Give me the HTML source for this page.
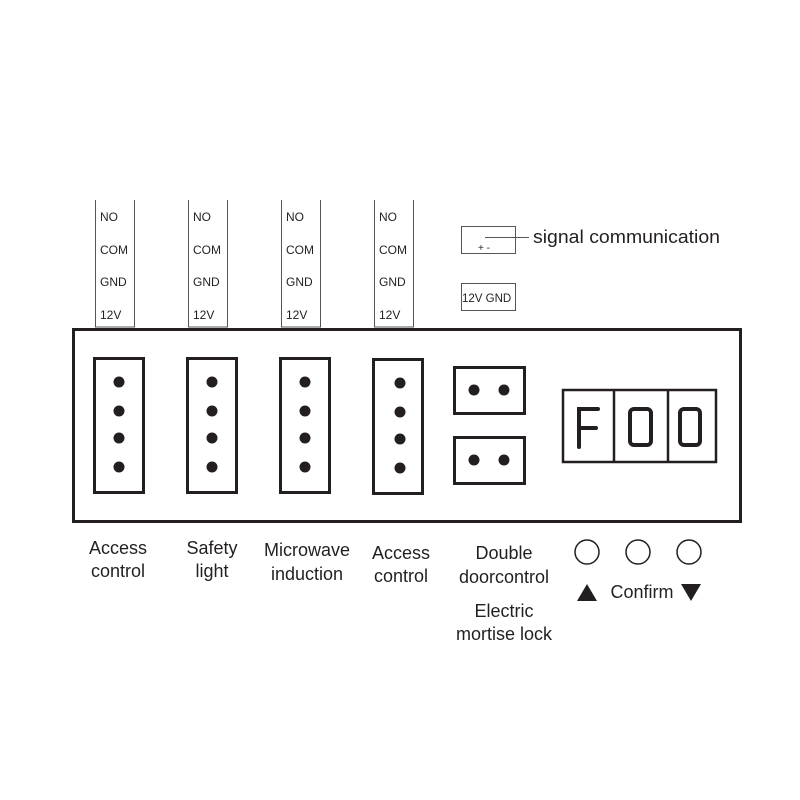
<!DOCTYPE html>
<html><head><style>
body{margin:0;background:#fff}
svg{display:block}
text{font-family:"Liberation Sans",sans-serif;fill:#231f20}
</style></head><body>
<svg width="800" height="800" viewBox="0 0 800 800" xmlns="http://www.w3.org/2000/svg">
<g fill="none" stroke="#555" stroke-width="1">
<path d="M95.5,200 V327 H134.5 V200"/>
<path d="M188.5,200 V327 H227.5 V200"/>
<path d="M281.5,200 V327 H320.5 V200"/>
<path d="M374.5,200 V327 H413.5 V200"/>
<rect x="461.5" y="226.5" width="54" height="27"/>
<rect x="461.5" y="283.5" width="54" height="27"/>
<line x1="485" y1="237.5" x2="529" y2="237.5"/>
</g>
<g font-size="12">
<text x="100" y="221">NO</text><text x="100" y="254">COM</text><text x="100" y="286">GND</text><text x="100" y="319">12V</text>
<text x="193" y="221">NO</text><text x="193" y="254">COM</text><text x="193" y="286">GND</text><text x="193" y="319">12V</text>
<text x="286" y="221">NO</text><text x="286" y="254">COM</text><text x="286" y="286">GND</text><text x="286" y="319">12V</text>
<text x="379" y="221">NO</text><text x="379" y="254">COM</text><text x="379" y="286">GND</text><text x="379" y="319">12V</text>
<text x="462" y="302" font-size="11.5">12V GND</text>
<text x="478" y="251" font-size="10">+  -</text>
</g>
<text x="533" y="243" font-size="18" textLength="187" lengthAdjust="spacingAndGlyphs">signal communication</text>
<g fill="none" stroke="#231f20">
<rect x="73.5" y="329.5" width="667" height="192" stroke-width="3"/>
<g stroke-width="3">
<rect x="94.5" y="358.5" width="49" height="134"/>
<rect x="187.5" y="358.5" width="49" height="134"/>
<rect x="280.5" y="358.5" width="49" height="134"/>
<rect x="373.5" y="359.5" width="49" height="134"/>
<rect x="454.5" y="367.5" width="70" height="46"/>
<rect x="454.5" y="437.5" width="70" height="46"/>
</g>
<g stroke-width="2.5">
<rect x="563" y="390" width="153" height="72"/>
<line x1="614" y1="390" x2="614" y2="462"/>
<line x1="668" y1="390" x2="668" y2="462"/>
</g>
<g stroke-width="4" stroke-linecap="round">
<path d="M579,447 V409 H598 M579,428 H596"/>
<rect x="630" y="409" width="21" height="36" rx="4"/>
<rect x="680" y="409" width="20" height="36" rx="4"/>
</g>
<g stroke-width="1.5">
<circle cx="587" cy="552" r="12"/>
<circle cx="638" cy="552" r="12"/>
<circle cx="689" cy="552" r="12"/>
</g>
</g>
<g fill="#231f20">
<circle cx="119" cy="382" r="5.5"/><circle cx="119" cy="411" r="5.5"/><circle cx="119" cy="438" r="5.5"/><circle cx="119" cy="467" r="5.5"/>
<circle cx="212" cy="382" r="5.5"/><circle cx="212" cy="411" r="5.5"/><circle cx="212" cy="438" r="5.5"/><circle cx="212" cy="467" r="5.5"/>
<circle cx="305" cy="382" r="5.5"/><circle cx="305" cy="411" r="5.5"/><circle cx="305" cy="438" r="5.5"/><circle cx="305" cy="467" r="5.5"/>
<circle cx="400" cy="383" r="5.5"/><circle cx="400" cy="412" r="5.5"/><circle cx="400" cy="439" r="5.5"/><circle cx="400" cy="468" r="5.5"/>
<circle cx="474" cy="390" r="5.5"/><circle cx="504" cy="390" r="5.5"/>
<circle cx="474" cy="460" r="5.5"/><circle cx="504" cy="460" r="5.5"/>
<path d="M577,601 L587,584 L597,601 Z"/>
<path d="M681,584 L701,584 L691,601 Z"/>
</g>
<g font-size="18" text-anchor="middle">
<text x="118" y="554">Access</text><text x="118" y="577">control</text>
<text x="212" y="554">Safety</text><text x="212" y="577">light</text>
<text x="307" y="556">Microwave</text><text x="307" y="580">induction</text>
<text x="401" y="559">Access</text><text x="401" y="582">control</text>
<text x="504" y="559">Double</text><text x="504" y="583">doorcontrol</text>
<text x="504" y="617">Electric</text><text x="504" y="640">mortise lock</text>
<text x="642" y="598">Confirm</text>
</g>
</svg>
</body></html>
